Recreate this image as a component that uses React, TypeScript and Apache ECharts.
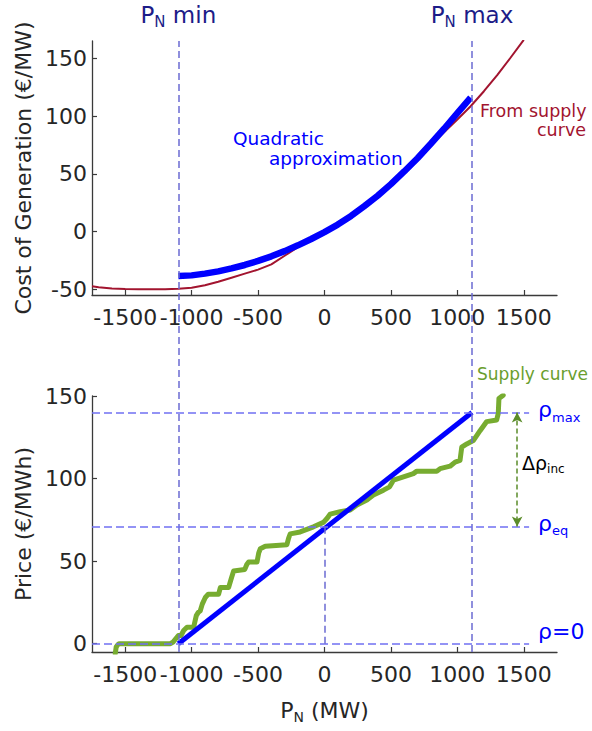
import React, { useEffect, useRef } from 'react';
import * as echarts from 'echarts';

// ---- tick labels ----
const xTicks = [-1500, -1000, -500, 0, 500, 1000, 1500];
const costTicks = [-50, 0, 50, 100, 150];
const priceTicks = [0, 50, 100, 150];

// ---- top panel: cost from supply curve (red) ----
const supplyCostX = [-1750, -1700, -1600, -1500, -1400, -1300, -1200, -1100, -1000, -900, -800, -700, -600, -500, -400, -300, -200, -100, 0, 100, 200, 300, 400, 500, 600, 700, 800, 900, 1000, 1100, 1200, 1300, 1400, 1500];
const supplyCostY = [-47.5, -48.3, -49.4, -49.8, -50, -50, -50, -49.6, -48.8, -46.5, -43.5, -40, -36.5, -33, -28.5, -21, -13.5, -7, -0.5, 6, 13.5, 22, 31, 41, 52, 63.5, 75, 86, 97, 108.5, 121.5, 135.5, 150.5, 166];

// ---- top panel: quadratic approximation (blue) ----
const quadX = [-1100, -1000, -900, -800, -700, -600, -500, -400, -300, -200, -100, 0, 100, 200, 300, 400, 500, 600, 700, 800, 900, 1000, 1100];
const quadY = [-38.5, -38, -36.5, -34.5, -32, -29, -25.5, -21.5, -17, -12, -6.5, -0.5, 6, 13.5, 22, 31, 41, 52, 63.5, 76, 89, 102.5, 116];

// ---- bottom panel: supply curve (green) ----
const supplyX = [-1575, -1568, -1555, -1545, -1160, -1140, -1120, -1100, -1080, -1060, -1035, -985, -965, -950, -935, -920, -897, -875, -797, -784, -722, -700, -684, -600, -585, -571, -508, -495, -483, -446, -283, -270, -258, -183, -83, -8, 20, 43, 118, 193, 244, 319, 368, 444, 490, 519, 594, 669, 695, 845, 870, 945, 983, 1020, 1033, 1071, 1120, 1171, 1221, 1296, 1308, 1313, 1345];
const supplyY = [-6, -2, -0.5, 0, 0, 1, 3, 5, 5, 8, 10, 10, 17, 19, 20, 24, 28, 30, 30, 34, 34, 40, 44, 45, 48, 49.5, 49.5, 55, 57.5, 59, 60, 64, 66.5, 67.7, 70.8, 73.5, 76, 78.5, 80, 81, 84, 87, 90, 93, 95, 99, 101, 103, 104.5, 104.5, 106, 107.5, 110, 111, 119, 121, 123, 129, 134.5, 135.5, 139.5, 148.5, 150.5];

// ---- bottom panel: linear price (blue) ----
const priceLineX = [-1100, 1110];
const priceLineY = [0, 140];

// ---- reference values ----
const pnMin = -1100;
const pnMax = 1110;
const rhoMax = 140;
const rhoEq = 71;
const rhoZero = 0;
const arrowX = 1450;
const refLineStartX = -1750;
const refLineEndX = 1540;

const FONT = "'DejaVu Sans', sans-serif";
const DARK = '#262626';
const AXIS = '#3a3a3a';
const RED = '#A2142F';
const BLUE = '#0000FF';
const GREEN = '#77AC30';
const DGREEN = '#5b8c2a';
const VREF = '#6b6bd2';
const HREF = '#7070f2';
const NAVY = '#1c1c88';

const zip = (xs: number[], ys: number[]) => xs.map((x, i) => [x, ys[i]]);
const plain = (v: number) => String(v);

const xAxisBase = (gridIndex: number, extra: any = {}) => ({
  type: 'value',
  gridIndex,
  min: -1750,
  max: 1750,
  axisLine: { show: true, onZero: false, lineStyle: { color: AXIS, width: 1.3 } },
  axisTick: { show: true, inside: true, length: 5, customValues: xTicks, lineStyle: { color: AXIS, width: 1.2 } },
  axisLabel: { customValues: xTicks, formatter: plain, fontSize: 22, color: DARK, fontFamily: FONT, margin: 11, hideOverlap: false },
  splitLine: { show: false },
  ...extra,
});

const yAxisBase = (gridIndex: number, min: number, max: number, ticks: number[], name: string) => ({
  type: 'value',
  gridIndex,
  min,
  max,
  name,
  nameLocation: 'middle',
  nameGap: 56,
  nameTextStyle: { fontSize: 22, color: DARK, fontFamily: FONT },
  axisLine: { show: true, onZero: false, lineStyle: { color: AXIS, width: 1.3 } },
  axisTick: { show: true, inside: true, length: 5, customValues: ticks, lineStyle: { color: AXIS, width: 1.2 } },
  axisLabel: { customValues: ticks, formatter: plain, fontSize: 22, color: DARK, fontFamily: FONT, margin: 5 },
  splitLine: { show: false },
});

const subRich = (color: string, big: number, small: number) => ({
  p: { fontSize: big, color, fontFamily: FONT, lineHeight: big + 6 },
  s: { fontSize: small, color, fontFamily: FONT, lineHeight: small - 2, verticalAlign: 'bottom' },
});

export default function App() {
  const ref = useRef<HTMLDivElement>(null);
  useEffect(() => {
    if (!ref.current) return;
    const chart = echarts.init(ref.current, undefined, { renderer: 'svg' });
    const option: any = {
      animation: false,
      backgroundColor: '#ffffff',
      grid: [
        { left: 92, right: 35, top: 41, height: 254 },
        { left: 92, right: 35, top: 396, height: 256 },
        { left: 92, right: 35, top: 41, height: 611 },
      ],
      xAxis: [
        xAxisBase(0),
        xAxisBase(1, {
          name: '{p|P}{s|N}{p| (MW)}',
          nameLocation: 'middle',
          nameGap: 44,
          nameTextStyle: { rich: subRich(DARK, 22, 14) },
        }),
        { type: 'value', gridIndex: 2, min: -1750, max: 1750, show: false },
      ],
      yAxis: [
        yAxisBase(0, -55, 165, costTicks, 'Cost of Generation (€/MW)'),
        yAxisBase(1, -5, 150, priceTicks, 'Price (€/MWh)'),
        { type: 'value', gridIndex: 2, min: 0, max: 1, show: false },
      ],
      series: [
        // vertical P_N min / max reference lines spanning both panels
        {
          type: 'line',
          xAxisIndex: 2,
          yAxisIndex: 2,
          data: [],
          z: 1,
          markLine: {
            silent: true,
            symbol: 'none',
            lineStyle: { color: VREF, type: [7, 4], width: 1.5 },
            label: {
              show: true,
              position: 'end',
              distance: 12,
              rich: subRich(NAVY, 23, 15),
            },
            data: [
              { xAxis: pnMin, label: { formatter: '{p|P}{s|N}{p| min}' } },
              { xAxis: pnMax, label: { formatter: '{p|P}{s|N}{p| max}' } },
            ],
          },
        },
        // horizontal rho reference lines
        {
          type: 'line',
          xAxisIndex: 1,
          yAxisIndex: 1,
          data: [],
          z: 1,
          markLine: {
            silent: true,
            symbol: 'none',
            lineStyle: { color: HREF, type: [8, 4], width: 1.5 },
            label: {
              show: true,
              position: 'end',
              distance: 9,
              rich: subRich(BLUE, 22, 13),
            },
            data: [
              [
                { coord: [refLineStartX, rhoMax], label: { formatter: '{p|ρ}{s|max}', padding: [0, 0, 6, 0] } },
                { coord: [refLineEndX, rhoMax] },
              ],
              [
                { coord: [refLineStartX, rhoEq], label: { formatter: '{p|ρ}{s|eq}', padding: [0, 0, 6, 0] } },
                { coord: [refLineEndX, rhoEq] },
              ],
              [
                { coord: [refLineStartX, rhoZero], label: { formatter: '{p|ρ=0}', padding: [0, 0, 24, 0] } },
                { coord: [refLineEndX, rhoZero] },
              ],
            ],
          },
        },
        // short vertical line at P_N = 0
        {
          type: 'line',
          xAxisIndex: 1,
          yAxisIndex: 1,
          data: [],
          z: 1,
          markLine: {
            silent: true,
            symbol: 'none',
            lineStyle: { color: VREF, type: [7, 4], width: 1.5 },
            label: { show: false },
            data: [[{ coord: [0, rhoZero] }, { coord: [0, rhoEq] }]],
          },
        },
        // delta rho arrow
        {
          type: 'line',
          xAxisIndex: 1,
          yAxisIndex: 1,
          data: [],
          z: 1,
          markLine: {
            silent: true,
            symbol: ['arrow', 'arrow'],
            symbolSize: [8, 10],
            lineStyle: { color: DGREEN, type: [5, 3], width: 1.5 },
            itemStyle: { color: DGREEN },
            label: { show: false },
            data: [[{ coord: [arrowX, rhoMax] }, { coord: [arrowX, rhoEq] }]],
          },
        },
        {
          type: 'line',
          name: 'From supply curve',
          xAxisIndex: 0,
          yAxisIndex: 0,
          data: zip(supplyCostX, supplyCostY),
          symbol: 'none',
          z: 3,
          lineStyle: { color: RED, width: 2 },
        },
        {
          type: 'line',
          name: 'Quadratic approximation',
          xAxisIndex: 0,
          yAxisIndex: 0,
          data: zip(quadX, quadY),
          symbol: 'none',
          smooth: false,
          z: 4,
          lineStyle: { color: BLUE, width: 6.5, cap: 'butt' },
        },
        {
          type: 'line',
          name: 'Supply curve',
          xAxisIndex: 1,
          yAxisIndex: 1,
          data: zip(supplyX, supplyY),
          symbol: 'none',
          z: 3,
          lineStyle: { color: GREEN, width: 5, join: 'round', cap: 'round' },
        },
        {
          type: 'line',
          name: 'Linear price',
          xAxisIndex: 1,
          yAxisIndex: 1,
          data: zip(priceLineX, priceLineY),
          symbol: 'none',
          z: 4,
          lineStyle: { color: BLUE, width: 5 },
        },
      ],
      graphic: [
        {
          type: 'text',
          left: 233,
          top: 129,
          style: {
            text: '{a|Quadratic}\n{b|approximation}',
            rich: {
              a: { fontSize: 18.5, lineHeight: 20, fill: BLUE, color: BLUE, fontFamily: FONT },
              b: { fontSize: 18.5, lineHeight: 20, fill: BLUE, color: BLUE, fontFamily: FONT, padding: [0, 0, 0, 36] },
            },
          },
        },
        {
          type: 'text',
          left: 480,
          top: 102,
          style: {
            text: '{a|From supply}\n{b|curve}',
            rich: {
              a: { fontSize: 17.5, lineHeight: 19, fill: RED, color: RED, fontFamily: FONT },
              b: { fontSize: 17.5, lineHeight: 19, fill: RED, color: RED, fontFamily: FONT, padding: [0, 0, 0, 57] },
            },
          },
        },
        { type: 'text', left: 477, top: 365, style: { text: 'Supply curve', fontSize: 17, fill: '#6a9e2e', fontFamily: FONT } },
        {
          type: 'text',
          left: 522,
          top: 453,
          style: {
            text: '{p|Δρ}{s|inc}',
            rich: subRich('#6a9a30', 19, 12),
          },
        },
      ],
    };
    chart.setOption(option);
    return () => chart.dispose();
  }, []);
  return <div ref={ref} style={{ width: 592, height: 731, position: 'absolute', left: 0, top: 0, background: '#fff' }} />;
}
